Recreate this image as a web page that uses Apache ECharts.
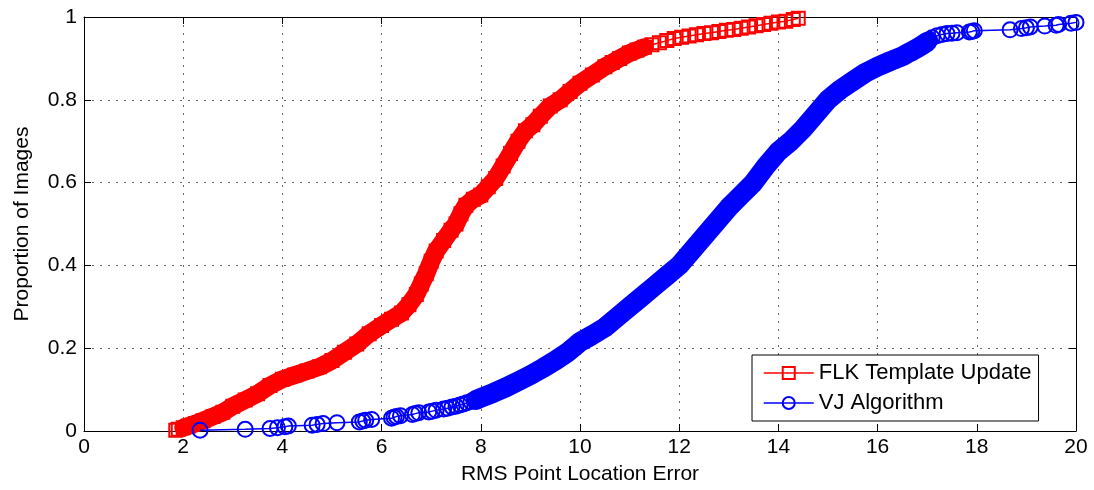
<!DOCTYPE html>
<html>
<head>
<meta charset="utf-8">
<script src="https://cdn.jsdelivr.net/npm/echarts@6/dist/echarts.min.js"></script>
<style>html,body{margin:0;padding:0;background:#fff}#c{width:1094px;height:490px}</style>
</head>
<body>
<div id="c"></div>
<script>
// ---- data ----
const seriesNames = ['FLK Template Update', 'VJ Algorithm'];
const xAxisTitle = 'RMS Point Location Error';
const yAxisTitle = 'Proportion of Images';

// FLK Template Update: RMS error vs cumulative proportion
const flkError = [1.85,1.9,2.0,2.1,2.25,2.4,2.6,2.8,3.0,3.25,3.5,3.75,4.0,4.25,4.5,4.75,5.0,5.25,5.5,5.75,6.0,6.2,6.4,6.55,6.7,6.8,6.9,7.0,7.1,7.25,7.4,7.5,7.6,7.7,7.85,8.0,8.15,8.3,8.45,8.6,8.75,8.9,9.05,9.2,9.4,9.6,9.8,10.0,10.25,10.5,10.65,10.8,11.0,11.15,11.3,11.45,11.6,11.75,11.9,12.05,12.2,12.35,12.5,12.65,12.8,12.95,13.1,13.25,13.4,13.55,13.7,13.85,14.0,14.15,14.3,14.4];
const flkProp  = [0.002,0.004,0.008,0.012,0.018,0.025,0.035,0.045,0.06,0.075,0.09,0.11,0.125,0.135,0.145,0.155,0.17,0.19,0.21,0.235,0.255,0.27,0.285,0.305,0.33,0.355,0.38,0.41,0.435,0.46,0.485,0.5,0.525,0.545,0.56,0.57,0.59,0.61,0.64,0.67,0.70,0.725,0.74,0.76,0.785,0.80,0.82,0.84,0.86,0.88,0.89,0.90,0.913,0.92,0.927,0.933,0.938,0.943,0.948,0.951,0.954,0.957,0.96,0.962,0.965,0.968,0.97,0.973,0.976,0.979,0.982,0.985,0.988,0.99,0.994,0.997];

// VJ Algorithm
const vjError = [2.34,3.25,3.75,3.9,4.05,4.12,4.6,4.7,4.82,5.1,5.55,5.62,5.68,5.8,6.2,6.25,6.3,6.38,6.62,6.68,6.75,6.95,7.02,7.1,7.25,7.33,7.42,7.5,7.58,7.65,7.72,7.8,7.9,8.0,8.25,8.5,8.75,9.0,9.25,9.5,9.75,10.0,10.25,10.5,10.75,11.0,11.25,11.5,11.75,12.0,12.25,12.5,12.75,13.0,13.25,13.5,13.75,14.0,14.25,14.5,14.75,15.0,15.25,15.5,15.75,16.0,16.25,16.5,16.6,16.7,16.8,16.9,17.0,17.05,17.1,17.2,17.3,17.4,17.5,17.6,17.85,17.9,17.95,18.67,18.9,19.0,19.08,19.37,19.6,19.65,19.9,20.0];
const vjProp  = [0.002,0.004,0.006,0.008,0.01,0.012,0.014,0.016,0.018,0.02,0.022,0.024,0.026,0.028,0.031,0.033,0.035,0.037,0.04,0.042,0.044,0.046,0.048,0.05,0.053,0.055,0.058,0.06,0.063,0.065,0.068,0.071,0.075,0.08,0.092,0.105,0.12,0.135,0.152,0.17,0.19,0.215,0.232,0.25,0.275,0.30,0.325,0.35,0.375,0.40,0.435,0.47,0.505,0.54,0.57,0.60,0.64,0.675,0.70,0.73,0.765,0.80,0.825,0.845,0.865,0.88,0.893,0.905,0.912,0.918,0.925,0.932,0.94,0.945,0.95,0.955,0.958,0.96,0.961,0.962,0.964,0.965,0.967,0.969,0.972,0.974,0.976,0.978,0.98,0.982,0.985,0.987];

// error ranges where markers overlap into a solid band
const flkDenseRange = [2.0, 11.3];
const vjDenseRange = [7.9, 17.0];

// ---- chart ----
const FONT = 'Helvetica, "Liberation Sans", Arial, sans-serif';
const pairs = (xs, ys) => xs.map((x, i) => [x, ys[i]]);
const dense = (xs, ys, r) => pairs(xs, ys).filter(p => p[0] >= r[0] && p[0] <= r[1]);

const flkData = pairs(flkError, flkProp);
const vjData = pairs(vjError, vjProp);

const chart = echarts.init(document.getElementById('c'), null, {renderer: 'canvas'});

const tickStyle = {inside: true, length: 7, lineStyle: {color: '#000', width: 1}};
const lineBox = {show: true, onZero: false, lineStyle: {color: '#000', width: 1}};
const gridDots = {show: true, lineStyle: {color: '#666', width: 1, type: [2, 6]}};

chart.setOption({
  animation: false,
  backgroundColor: '#fff',
  textStyle: {fontFamily: FONT},
  grid: {left: 84, right: 18, top: 17, bottom: 59, containLabel: false},
  legend: {
    data: seriesNames,
    orient: 'vertical',
    left: 752, top: 355,
    padding: [6, 7, 6, 11],
    itemGap: 6,
    itemWidth: 50,
    itemHeight: 15,
    backgroundColor: '#fff',
    borderColor: '#000',
    borderWidth: 1,
    borderRadius: 0,
    textStyle: {fontSize: 22, color: '#000', lineHeight: 24, fontFamily: FONT},
    lineStyle: {width: 1.5}
  },
  xAxis: [{
    type: 'value', min: 0, max: 20, interval: 2,
    axisLine: lineBox, axisTick: tickStyle,
    axisLabel: {color: '#000', fontSize: 21, margin: 6, fontFamily: FONT},
    splitLine: gridDots,
    name: xAxisTitle, nameLocation: 'middle', nameGap: 33,
    nameTextStyle: {color: '#000', fontSize: 21, fontFamily: FONT}
  }, {
    type: 'value', position: 'top', min: 0, max: 20, interval: 2,
    axisLine: lineBox, axisTick: tickStyle,
    axisLabel: {show: false}, splitLine: {show: false}
  }],
  yAxis: [{
    type: 'value', min: 0, max: 1, interval: 0.2,
    axisLine: lineBox, axisTick: tickStyle,
    axisLabel: {color: '#000', fontSize: 21, margin: 7, fontFamily: FONT},
    splitLine: gridDots,
    name: yAxisTitle, nameLocation: 'middle', nameGap: 51,
    nameTextStyle: {color: '#000', fontSize: 21, fontFamily: FONT}
  }, {
    type: 'value', position: 'right', min: 0, max: 1, interval: 0.2,
    axisLine: lineBox, axisTick: tickStyle,
    axisLabel: {show: false}, splitLine: {show: false}
  }],
  series: [
    {
      name: 'flkBand', type: 'line', data: dense(flkError, flkProp, flkDenseRange),
      symbol: 'none', silent: true, z: 2, clip: false,
      lineStyle: {color: '#ff0000', width: 18, cap: 'round', join: 'round'}
    },
    {
      name: seriesNames[0], type: 'line', data: flkData, z: 3, clip: false,
      symbol: 'rect', symbolSize: 13, showAllSymbol: true,
      itemStyle: {color: 'rgba(255,255,255,0)', borderColor: '#ff0000', borderWidth: 2},
      lineStyle: {color: '#ff0000', width: 1.5}
    },
    {
      name: 'vjBand', type: 'line', data: dense(vjError, vjProp, vjDenseRange),
      symbol: 'none', silent: true, z: 4, clip: false,
      lineStyle: {color: '#0000ff', width: 20, cap: 'round', join: 'round'}
    },
    {
      name: seriesNames[1], type: 'line', data: vjData, z: 5, clip: false,
      symbol: 'circle', symbolSize: 15, showAllSymbol: true,
      itemStyle: {color: 'rgba(255,255,255,0)', borderColor: '#0000ff', borderWidth: 2},
      lineStyle: {color: '#0000ff', width: 1.5}
    }
  ]
});
</script>
</body>
</html>
